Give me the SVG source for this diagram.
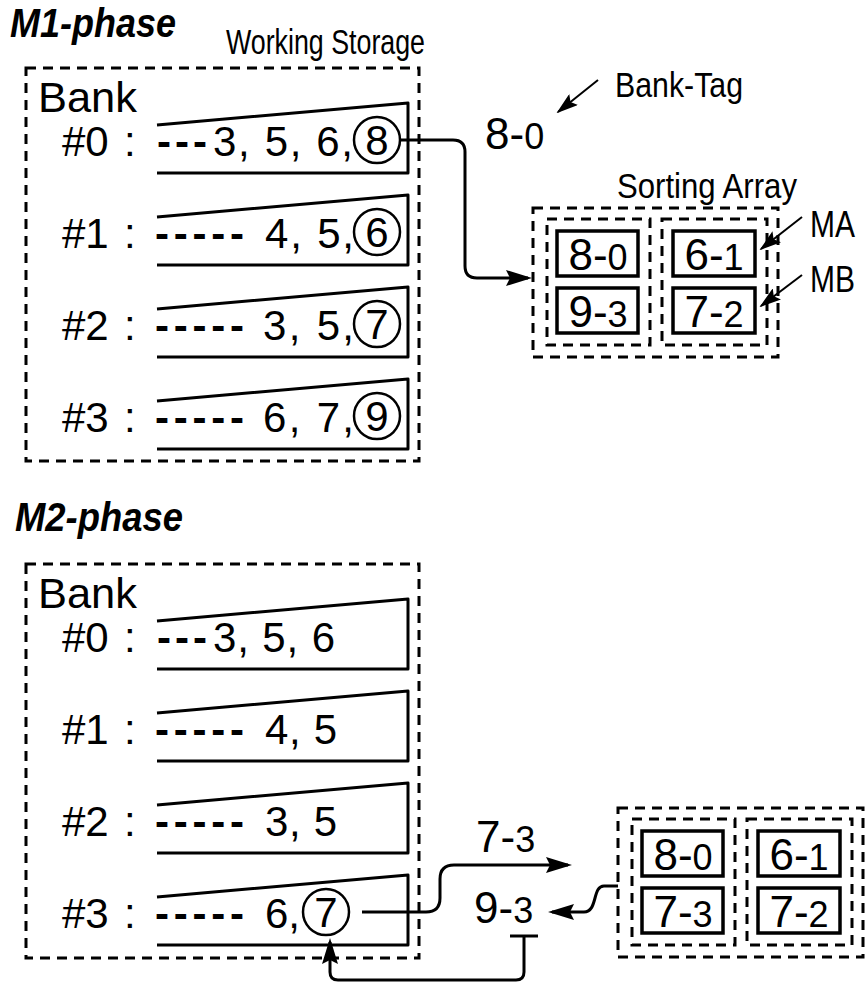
<svg xmlns="http://www.w3.org/2000/svg" width="867" height="984" viewBox="0 0 867 984">
<style>
.t{font-family:"Liberation Sans",Arial,Helvetica,sans-serif;fill:#000}
.title{font-size:40px;font-weight:bold;font-style:italic}
.lab{font-size:35px}
.mab{font-size:36px}
.big{font-size:42px}
.dsh{font-size:42px;font-weight:bold}
.tag{font-size:44px}
.sub{font-size:36px}
.dash{fill:none;stroke:#000;stroke-width:3;stroke-dasharray:10 7}
.trap{fill:none;stroke:#000;stroke-width:3;stroke-linejoin:round}
.circ{fill:none;stroke:#000;stroke-width:2.5}
.box{fill:none;stroke:#000;stroke-width:3.5}
.conn{fill:none;stroke:#000;stroke-width:3;stroke-linejoin:round}
.thin{fill:none;stroke:#000;stroke-width:2}
</style>
<defs>
<marker id="ah" markerUnits="userSpaceOnUse" markerWidth="26" markerHeight="16" viewBox="0 0 26 16" refX="22" refY="8" orient="auto"><path d="M0,0 L26,8 L0,16 L4,8 z" fill="#000"/></marker>
<marker id="ahs" markerUnits="userSpaceOnUse" markerWidth="22" markerHeight="14" viewBox="0 0 22 14" refX="20" refY="7" orient="auto"><path d="M0,0 L22,7 L0,14 L4,7 z" fill="#000"/></marker>
</defs>
<rect width="867" height="984" fill="#fff"/>

<g id="m1-title"><text class="t title" x="10" y="37" textLength="166" lengthAdjust="spacingAndGlyphs">M1-phase</text></g>
<g id="m1-working-storage-label"><text class="t lab" x="226" y="54" textLength="199" lengthAdjust="spacingAndGlyphs">Working Storage</text></g>

<g id="m1-working-storage">
<rect class="dash" x="26" y="68" width="393" height="393"/>
<text class="t big" x="38" y="112" textLength="99" lengthAdjust="spacingAndGlyphs">Bank</text>
</g>
<g id="m1-bank0">
<path class="trap" d="M157,125 L408,103 V173 H157"/>
<text class="t big" x="62" y="156">#0</text><text class="t big" x="124" y="156">:</text>
<text class="t dsh" x="157" y="156" textLength="50" lengthAdjust="spacing">---</text>
<text class="t big" x="213" y="156" textLength="140" lengthAdjust="spacing">3, 5, 6,</text>
<circle class="circ" cx="377" cy="140" r="23"/><text class="t big" x="377" y="155" text-anchor="middle">8</text>
</g>
<g id="m1-bank1">
<path class="trap" d="M157,217 L408,195 V265 H157"/>
<text class="t big" x="62" y="248">#1</text><text class="t big" x="124" y="248">:</text>
<text class="t dsh" x="155" y="248" textLength="89" lengthAdjust="spacing">-----</text>
<text class="t big" x="265" y="248" textLength="89" lengthAdjust="spacing">4, 5,</text>
<circle class="circ" cx="377" cy="232" r="23"/><text class="t big" x="377" y="247" text-anchor="middle">6</text>
</g>
<g id="m1-bank2">
<path class="trap" d="M157,309 L408,287 V357 H157"/>
<text class="t big" x="62" y="340">#2</text><text class="t big" x="124" y="340">:</text>
<text class="t dsh" x="155" y="340" textLength="89" lengthAdjust="spacing">-----</text>
<text class="t big" x="263" y="340" textLength="91" lengthAdjust="spacing">3, 5,</text>
<circle class="circ" cx="377" cy="324" r="23"/><text class="t big" x="377" y="339" text-anchor="middle">7</text>
</g>
<g id="m1-bank3">
<path class="trap" d="M157,401 L408,379 V449 H157"/>
<text class="t big" x="62" y="432">#3</text><text class="t big" x="124" y="432">:</text>
<text class="t dsh" x="155" y="432" textLength="89" lengthAdjust="spacing">-----</text>
<text class="t big" x="263" y="432" textLength="91" lengthAdjust="spacing">6, 7,</text>
<circle class="circ" cx="377" cy="416" r="23"/><text class="t big" x="377" y="431" text-anchor="middle">9</text>
</g>

<g id="m1-bank-tag-label"><text class="t lab" x="615" y="97" textLength="128" lengthAdjust="spacingAndGlyphs">Bank-Tag</text></g>
<g id="m1-tag-8-0"><text class="t tag" x="485" y="149">8-<tspan class="sub">0</tspan></text></g>
<g id="m1-sorting-array-label"><text class="t lab" x="617" y="198" textLength="180" lengthAdjust="spacingAndGlyphs">Sorting Array</text></g>
<g id="m1-ma-label"><text class="t mab" x="810" y="237" textLength="45" lengthAdjust="spacingAndGlyphs">MA</text></g>
<g id="m1-mb-label"><text class="t mab" x="810" y="292" textLength="45" lengthAdjust="spacingAndGlyphs">MB</text></g>

<g id="m1-sorting-array">
<rect class="dash" x="533" y="208" width="245" height="149"/>
<rect class="dash" x="547" y="219" width="103" height="126"/>
<rect class="dash" x="662" y="219" width="105" height="126"/>
<rect class="box" x="557" y="231" width="81" height="45"/>
<rect class="box" x="557" y="288" width="81" height="45"/>
<rect class="box" x="673" y="231" width="82" height="45"/>
<rect class="box" x="673" y="288" width="82" height="45"/>
<text class="t tag" x="598" y="270" text-anchor="middle">8-<tspan class="sub">0</tspan></text>
<text class="t tag" x="598" y="327" text-anchor="middle">9-<tspan class="sub">3</tspan></text>
<text class="t tag" x="714" y="270" text-anchor="middle">6-<tspan class="sub">1</tspan></text>
<text class="t tag" x="714" y="327" text-anchor="middle">7-<tspan class="sub">2</tspan></text>
</g>

<g id="m2-title"><text class="t title" x="15" y="531" textLength="168" lengthAdjust="spacingAndGlyphs">M2-phase</text></g>

<g id="m2-working-storage" transform="translate(0,496)">
<rect class="dash" x="26" y="68" width="393" height="394"/>
<text class="t big" x="38" y="112" textLength="99" lengthAdjust="spacingAndGlyphs">Bank</text>
</g>
<g id="m2-bank0" transform="translate(0,496)">
<path class="trap" d="M157,125 L408,103 V173 H157"/>
<text class="t big" x="62" y="156">#0</text><text class="t big" x="124" y="156">:</text>
<text class="t dsh" x="157" y="156" textLength="50" lengthAdjust="spacing">---</text>
<text class="t big" x="213" y="156" textLength="122" lengthAdjust="spacing">3, 5, 6</text>
</g>
<g id="m2-bank1" transform="translate(0,496)">
<path class="trap" d="M157,217 L408,195 V265 H157"/>
<text class="t big" x="62" y="248">#1</text><text class="t big" x="124" y="248">:</text>
<text class="t dsh" x="155" y="248" textLength="89" lengthAdjust="spacing">-----</text>
<text class="t big" x="265" y="248" textLength="72" lengthAdjust="spacing">4, 5</text>
</g>
<g id="m2-bank2" transform="translate(0,496)">
<path class="trap" d="M157,309 L408,287 V357 H157"/>
<text class="t big" x="62" y="340">#2</text><text class="t big" x="124" y="340">:</text>
<text class="t dsh" x="155" y="340" textLength="89" lengthAdjust="spacing">-----</text>
<text class="t big" x="265" y="340" textLength="72" lengthAdjust="spacing">3, 5</text>
</g>
<g id="m2-bank3" transform="translate(0,496)">
<path class="trap" d="M157,401 L408,379 V449 H157"/>
<text class="t big" x="62" y="432">#3</text><text class="t big" x="124" y="432">:</text>
<text class="t dsh" x="155" y="432" textLength="89" lengthAdjust="spacing">-----</text>
<text class="t big" x="265" y="432">6,</text>
<circle class="circ" cx="326" cy="416" r="23"/><text class="t big" x="326" y="431" text-anchor="middle">7</text>
</g>

<g id="m2-tag-7-3"><text class="t tag" x="476" y="852">7-<tspan class="sub">3</tspan></text></g>
<g id="m2-tag-9-3"><text class="t tag" x="474" y="923">9-<tspan class="sub">3</tspan></text></g>

<g id="m2-sorting-array" transform="translate(85,600)">
<rect class="dash" x="533" y="208" width="245" height="149"/>
<rect class="dash" x="547" y="219" width="103" height="126"/>
<rect class="dash" x="662" y="219" width="105" height="126"/>
<rect class="box" x="557" y="231" width="81" height="45"/>
<rect class="box" x="557" y="288" width="81" height="45"/>
<rect class="box" x="673" y="231" width="82" height="45"/>
<rect class="box" x="673" y="288" width="82" height="45"/>
<text class="t tag" x="598" y="270" text-anchor="middle">8-<tspan class="sub">0</tspan></text>
<text class="t tag" x="598" y="327" text-anchor="middle">7-<tspan class="sub">3</tspan></text>
<text class="t tag" x="714" y="270" text-anchor="middle">6-<tspan class="sub">1</tspan></text>
<text class="t tag" x="714" y="327" text-anchor="middle">7-<tspan class="sub">2</tspan></text>
</g>

<g id="connectors">
<path class="conn" d="M400,140 H453 Q465,140 465,152 V266 Q465,278 477,278 H528" marker-end="url(#ah)"/>
<path class="thin" d="M598,80 L558,112" marker-end="url(#ahs)"/>
<path class="thin" d="M802,217 L761,249" marker-end="url(#ahs)"/>
<path class="thin" d="M802,275 L761,306" marker-end="url(#ahs)"/>
<path class="conn" d="M362,912 H426 Q440,912 440,898 V879 Q440,865 454,865 H568" marker-end="url(#ah)"/>
<path class="conn" d="M618,886 H604 C592,886 598,912 584,912 H552" marker-end="url(#ah)"/>
<path class="conn" d="M510,936 H538"/>
<path class="conn" d="M524,936 V972 Q524,980 516,980 H338 Q330,980 330,972 V942" marker-end="url(#ah)"/>
</g>
</svg>
